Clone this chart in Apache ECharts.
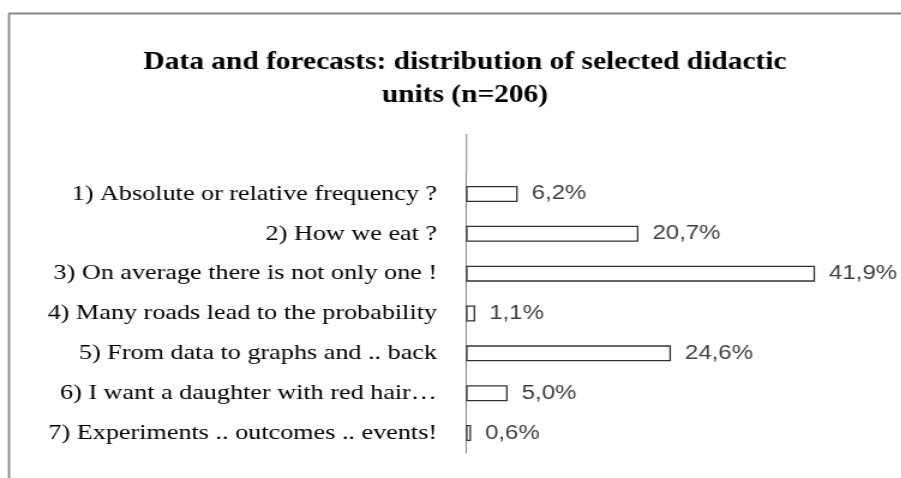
<!DOCTYPE html>
<html>
<head>
<meta charset="utf-8">
<script src="https://cdn.jsdelivr.net/npm/echarts@6/dist/echarts.min.js"></script>
<style>
html,body{margin:0;padding:0;background:#fff;overflow:hidden}
#wrap{width:901px;height:478px;overflow:hidden;position:relative}
#c{width:751px;height:478px;transform:scaleX(1.2);transform-origin:0 0;position:absolute;left:0;top:0}
</style>
</head>
<body>
<div id="wrap"><div id="c"></div></div>
<script>
const categories = [
  "1) Absolute or relative frequency ?",
  "2) How we eat ?",
  "3) On average there is not only one !",
  "4) Many roads lead to the probability",
  "5) From data to graphs and .. back",
  "6) I want a daughter with red hair\u2026",
  "7) Experiments .. outcomes .. events!"
];
const values = [6.2, 20.7, 41.9, 1.1, 24.6, 5.0, 0.6];
const titleText = "Data and forecasts: distribution of selected didactic\nunits (n=206)";

const S = 1.2; // horizontal stretch of the reference rendering
const chart = echarts.init(document.getElementById('c'), null, {renderer: 'canvas'});
const gridLeft = 466 / S, gridTop = 174, gridH = 279;
chart.setOption({
  animation: false,
  backgroundColor: '#fff',
  title: {
    text: titleText,
    left: 459 / S, top: 41, textAlign: 'center',
    textStyle: {fontFamily: 'Liberation Serif', fontWeight: 'bold', fontSize: 24.5, lineHeight: 33, color: '#000'}
  },
  grid: {left: gridLeft, top: gridTop, width: 416.5 / S, height: gridH},
  xAxis: {type: 'value', min: 0, max: 50, show: false},
  yAxis: {
    type: 'category', data: categories, inverse: true,
    axisLine: {show: true, lineStyle: {color: '#888', width: 1}},
    axisTick: {show: false},
    axisLabel: {fontFamily: 'Liberation Serif', fontSize: 21.8, color: '#000', margin: 29 / S, padding: [4, 0, 0, 0]}
  },
  series: [{
    type: 'bar', data: values, barWidth: 16,
    itemStyle: {color: '#fff', borderColor: '#333', borderWidth: 1.3},
    label: {
      show: true, position: 'right', distance: 14 / S,
      fontFamily: 'Liberation Sans', fontSize: 20, color: '#404040',
      formatter: p => p.value.toFixed(1).replace('.', ',') + '%'
    }
  }],
  graphic: [
    {type: 'line', shape: {x1: 7, y1: 13.5, x2: 760, y2: 13.5}, style: {stroke: '#888', lineWidth: 2}},
    {type: 'line', shape: {x1: 7.5, y1: 13.5, x2: 7.5, y2: 480}, style: {stroke: '#888', lineWidth: 1.8}},
    {type: 'line', shape: {x1: gridLeft + 0.4, y1: 134, x2: gridLeft + 0.4, y2: gridTop}, style: {stroke: '#888', lineWidth: 1}}
  ]
});
</script>
</body>
</html>
